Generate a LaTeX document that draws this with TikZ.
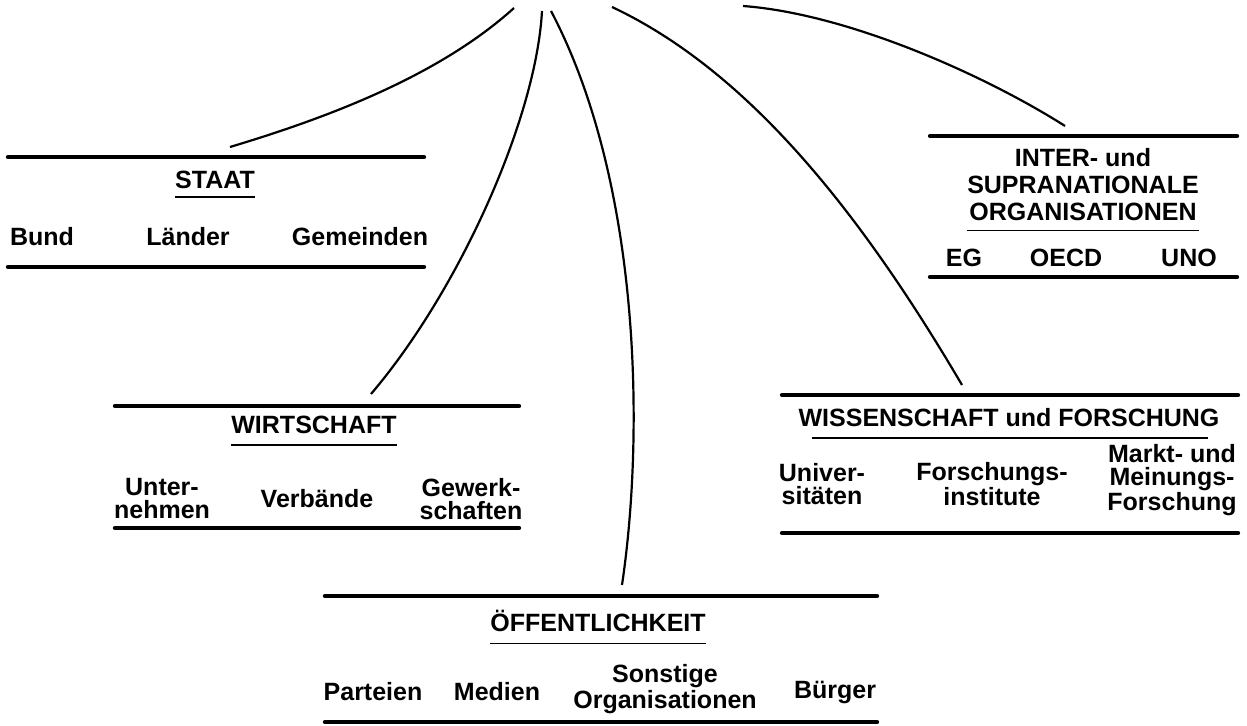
\documentclass[tikz,border=0pt]{standalone}
\usepackage{fontspec}
\setmainfont{Liberation Sans}
\usepackage{tikz}
\usetikzlibrary{calc}
\tikzset{
  bar/.style={draw=black, line width=2.2pt, line cap=round},
  uline/.style={draw=black, line width=0.9pt},
  link/.style={draw=black, line width=1.1pt},
  head/.style={font=\fontsize{12.5}{13.5}\selectfont\bfseries, inner sep=0pt, align=center},
  item/.style={font=\fontsize{12.5}{11.5}\selectfont\bfseries, inner sep=0pt, align=center}
}

\begin{document}
\begin{tikzpicture}[x=0.5pt, y=-0.5pt]
  \useasboundingbox (0,0) rectangle (1247,726);

  \coordinate (A0) at (514,8);
  \coordinate (B0) at (542,11);
  \coordinate (C0) at (551,11);
  \coordinate (D0) at (612,7);
  \coordinate (E0) at (743,6);
  \coordinate (St) at (230,147);
  \coordinate (Wi) at (371,394);
  \coordinate (Oe) at (622,585);
  \coordinate (Wf) at (962,385);
  \coordinate (In) at (1065,126);

  \draw[link] (A0) .. controls (440,75) and (330,117) .. (St);
  \draw[link] (B0) .. controls (536,120) and (458,292) .. (Wi);
  \draw[link] (C0) .. controls (640,180) and (645,430) .. (Oe);
  \draw[link] (D0) .. controls (750,72) and (862,215) .. (Wf);
  \draw[link] (E0) .. controls (850,14) and (988,77) .. (In);

  % Staat
  \draw[bar] (8,157) -- (424,157);
  \draw[bar] (8,267) -- (424,267);
  \node[head] (staat) at (215,180) {STAAT};
  \draw[uline] ($(staat.base west)+(0,8)$) -- ($(staat.base east)+(0,8)$);
  \node[item] (bund) at (42,237) {Bund};
  \node[item] (laender) at (188,237) {Länder};
  \node[item] (gemeinden) at (360,237) {Gemeinden};

  % Wirtschaft
  \draw[bar] (115,406) -- (519,406);
  \draw[bar] (115,528) -- (519,528);
  \node[head] (wirt) at (314,425) {WIRTSCHAFT};
  \draw[uline] ($(wirt.base west)+(0,11)$) -- ($(wirt.base east)+(0,11)$);
  \node[item] (untern) at (162,499) {Unter-\\nehmen};
  \node[item] (verb) at (317,499) {Verbände};
  \node[item] (gewerk) at (471,499) {Gewerk-\\schaften};

  % Oeffentlichkeit
  \draw[bar] (325,596) -- (877,596);
  \draw[bar] (325,722) -- (877,722);
  \node[head] (oeff) at (598,621) {ÖFFENTLICHKEIT};
  \draw[uline] ($(oeff.base west)+(0,12)$) -- ($(oeff.base east)+(0,12)$);
  \node[item] (part) at (373,692) {Parteien};
  \node[item] (medien) at (497,692) {Medien};
  \node[item] (sonst) at (665,689) {Sonstige\\Organisationen};
  \node[item] (buerger) at (835,692) {Bürger};

  % Wissenschaft
  \draw[bar] (782,395) -- (1238,395);
  \draw[bar] (782,533) -- (1238,533);
  \node[head] (wiss) at (1009,418) {WISSENSCHAFT und FORSCHUNG};
  \draw[uline] ($(wiss.base west)+(14,11)$) -- ($(wiss.base east)+(-12,11)$);
  \node[item] (uni) at (822,484) {Univer-\\sitäten};
  \node[item] (finst) at (992,484) {Forschungs-\\institute};
  \node[item] (markt) at (1172,480) {Markt- und\\Meinungs-\\Forschung};

  % Inter- und supranational
  \draw[bar] (930,136) -- (1237,136);
  \draw[bar] (930,277) -- (1237,277);
  \node[head] (inter) at (1083,185) {INTER- und\\SUPRANATIONALE\\ORGANISATIONEN};
  \draw[uline] ($(inter.south west)+(0,9)$) -- ($(inter.south east)+(0,9)$);
  \node[item] (eg) at (964,258) {EG};
  \node[item] (oecd) at (1066,258) {OECD};
  \node[item] (uno) at (1189,258) {UNO};
\end{tikzpicture}
\end{document}
